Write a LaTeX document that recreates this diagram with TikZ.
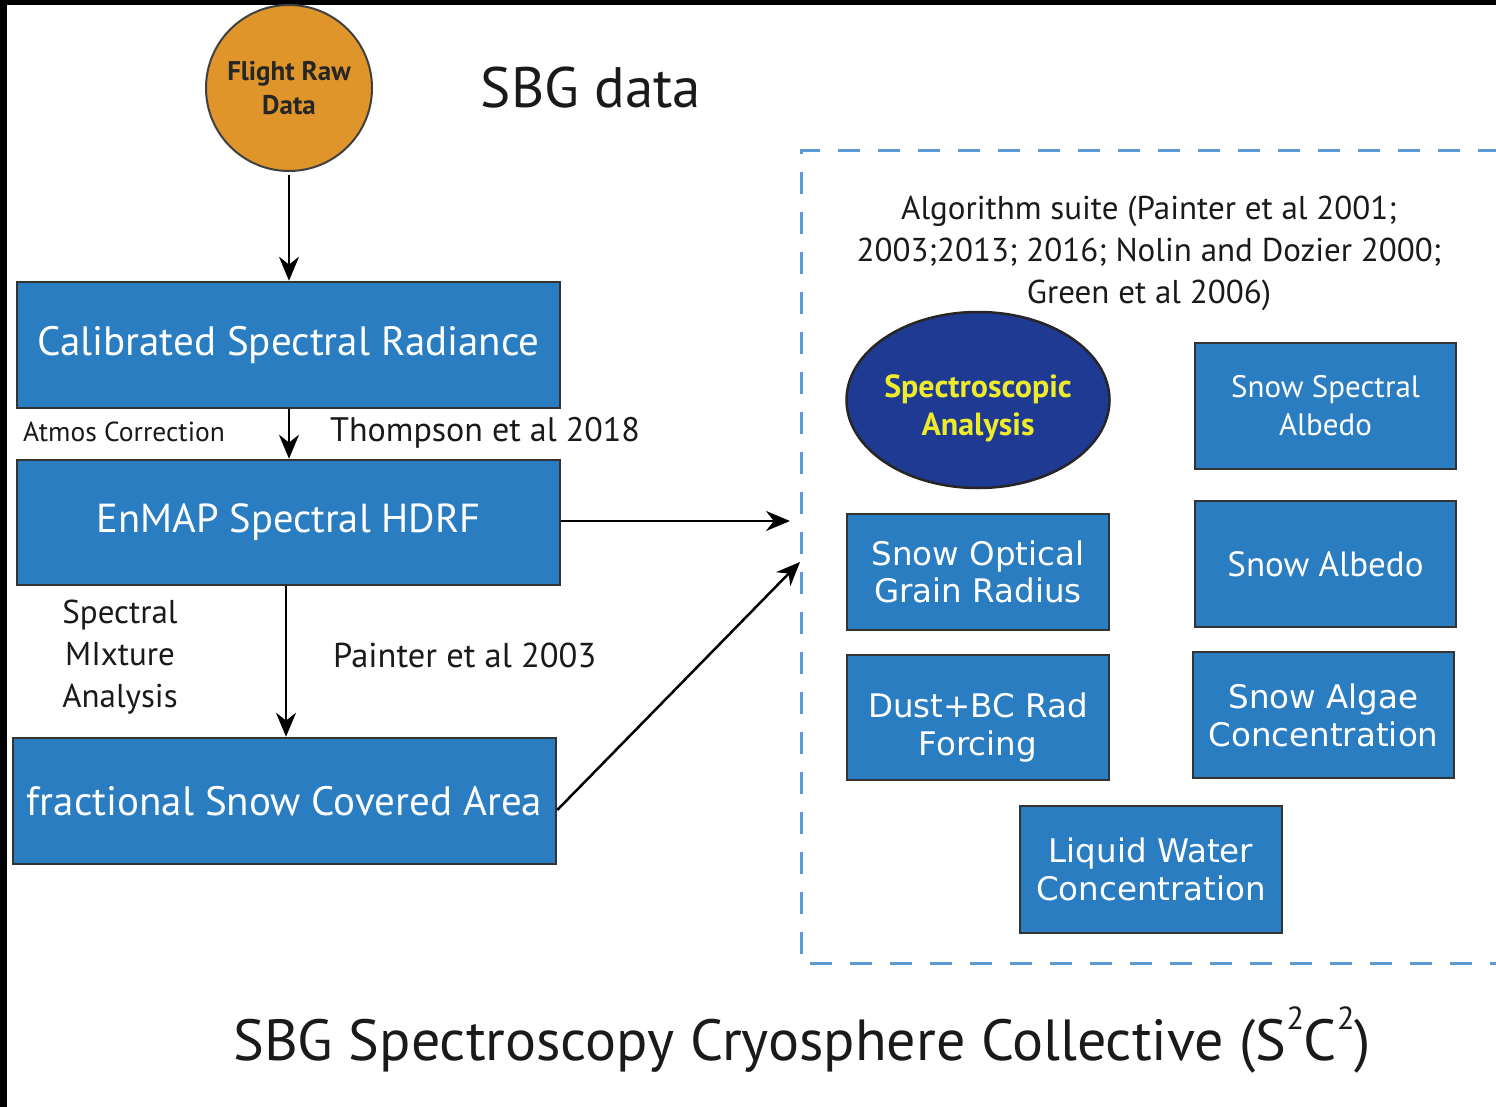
\documentclass[tikz,border=0pt]{standalone}
\usepackage{fontspec}
\setmainfont{PT Sans}
\newfontfamily\widefont{DejaVu Sans}
\usetikzlibrary{arrows.meta,shapes.geometric}
\definecolor{boxblue}{HTML}{2B7DC2}
\definecolor{dashblue}{HTML}{5B9BD5}
\definecolor{flightorange}{HTML}{E0952B}
\definecolor{ellblue}{HTML}{1F3A93}
\definecolor{ellyellow}{HTML}{EDEB2A}
\definecolor{txtdark}{HTML}{1A1A1A}
\newcommand{\supnum}[1]{\raisebox{0.55em}{\fontsize{32}{32}\selectfont #1}}
\begin{document}
\begin{tikzpicture}[x=1pt,y=-1pt,
  bluebox/.style={draw=black!80, line width=2.5pt, fill=boxblue, text=white, inner sep=0pt, align=center},
  arr/.style={line width=2.5pt, -{Stealth[length=24pt,width=20pt]}},
  lbl/.style={text=txtdark, inner sep=0pt, align=center}]
\useasboundingbox (0,0) rectangle (1496,1107);
\fill[white] (0,0) rectangle (1496,1107);
\fill[black] (0,0) rectangle (1496,5);
\fill[black] (0,0) rectangle (7,1107);

% flight raw data
\node[circle, draw=black!75, line width=2pt, fill=flightorange, minimum size=166pt, inner sep=0pt, align=center,
  font=\fontsize{27}{34}\selectfont\bfseries, text=black!85] (flight) at (289,88) {Flight Raw\\Data};
\node[lbl, font=\fontsize{57}{60}\selectfont] (sbg) at (591,88) {SBG data};

% left column boxes
\node[bluebox, minimum width=543pt, minimum height=126pt, font=\fontsize{41}{44}\selectfont] (cal) at (288.5,345) {Calibrated Spectral Radiance};
\node[bluebox, minimum width=543pt, minimum height=125pt, font=\fontsize{40.5}{44}\selectfont] (enmap) at (288.5,522.5) {EnMAP Spectral HDRF};
\node[bluebox, minimum width=543pt, minimum height=126pt, font=\fontsize{41}{44}\selectfont] (fsca) at (284.5,801) {fractional Snow Covered Area};

\draw[arr] (flight.south |- 0,175) -- (flight.south |- cal.north);
\draw[arr] (cal.south -| 289,0) -- (enmap.north -| 289,0);
\draw[arr] (enmap.south -| 286,0) -- (fsca.north -| 286,0);

\node[lbl, anchor=west, font=\fontsize{27.5}{30}\selectfont] (atmos) at (23,432) {Atmos Correction};
\node[lbl, anchor=west, font=\fontsize{34}{40}\selectfont] (thomp) at (330,433) {Thompson et al 2018};
\node[lbl, font=\fontsize{33}{42}\selectfont] (sma) at (120,657) {Spectral\\MIxture\\Analysis};
\node[lbl, anchor=west, font=\fontsize{34.5}{40}\selectfont] (paint) at (333,655) {Painter et al 2003};

% dashed region
\draw[dashblue, line width=3pt, dash pattern=on 22pt off 18pt] (1500,151) -- (801,151) -- (801,963) -- (1500,963);
\coordinate (in1) at (790,521);
\coordinate (in2) at (800,562);
\draw[arr] (enmap.east |- in1) -- (in1);
\draw[arr] (fsca.east |- 0,810) -- (in2);

\node[lbl, font=\fontsize{33}{42}\selectfont] (algo) at (1149,253) {Algorithm suite (Painter et al 2001;\\2003;2013; 2016; Nolin and Dozier 2000;\\Green et al 2006)};

\node[ellipse, draw=black!85, line width=2.5pt, fill=ellblue, text=ellyellow, minimum width=263pt, minimum height=176pt, inner sep=-20pt, align=center,
  font=\fontsize{32}{38}\selectfont\bfseries] (spec) at (978,400) {\rule{0pt}{40pt}Spectroscopic\\Analysis};

\node[bluebox, minimum width=261pt, minimum height=126pt, font=\fontsize{31}{38}\selectfont] (ssa) at (1325.5,406) {Snow Spectral\\Albedo};
\node[bluebox, minimum width=261pt, minimum height=126pt, font=\fontsize{35}{38}\selectfont] (salb) at (1325.5,564) {Snow Albedo};
\node[bluebox, minimum width=262pt, minimum height=116pt, font=\widefont\fontsize{32.5}{37}\selectfont] (sogr) at (978,572) {Snow Optical\\Grain Radius};
\node[bluebox, minimum width=262pt, minimum height=125pt, font=\widefont\fontsize{32.5}{38}\selectfont] (dust) at (978,717.5) {\rule{0pt}{45pt}Dust+BC Rad\\Forcing};
\node[bluebox, minimum width=261pt, minimum height=126pt, font=\widefont\fontsize{32.5}{38}\selectfont] (algae) at (1323.5,715) {Snow Algae\\Concentration};
\node[bluebox, minimum width=262pt, minimum height=127pt, font=\widefont\fontsize{32.5}{38}\selectfont] (lwc) at (1151,869.5) {Liquid Water\\Concentration};

\node[lbl, font=\fontsize{58}{62}\selectfont] (title) at (802,1040) {SBG Spectroscopy Cryosphere Collective (S\supnum{2}C\supnum{2})};
\end{tikzpicture}
\end{document}
